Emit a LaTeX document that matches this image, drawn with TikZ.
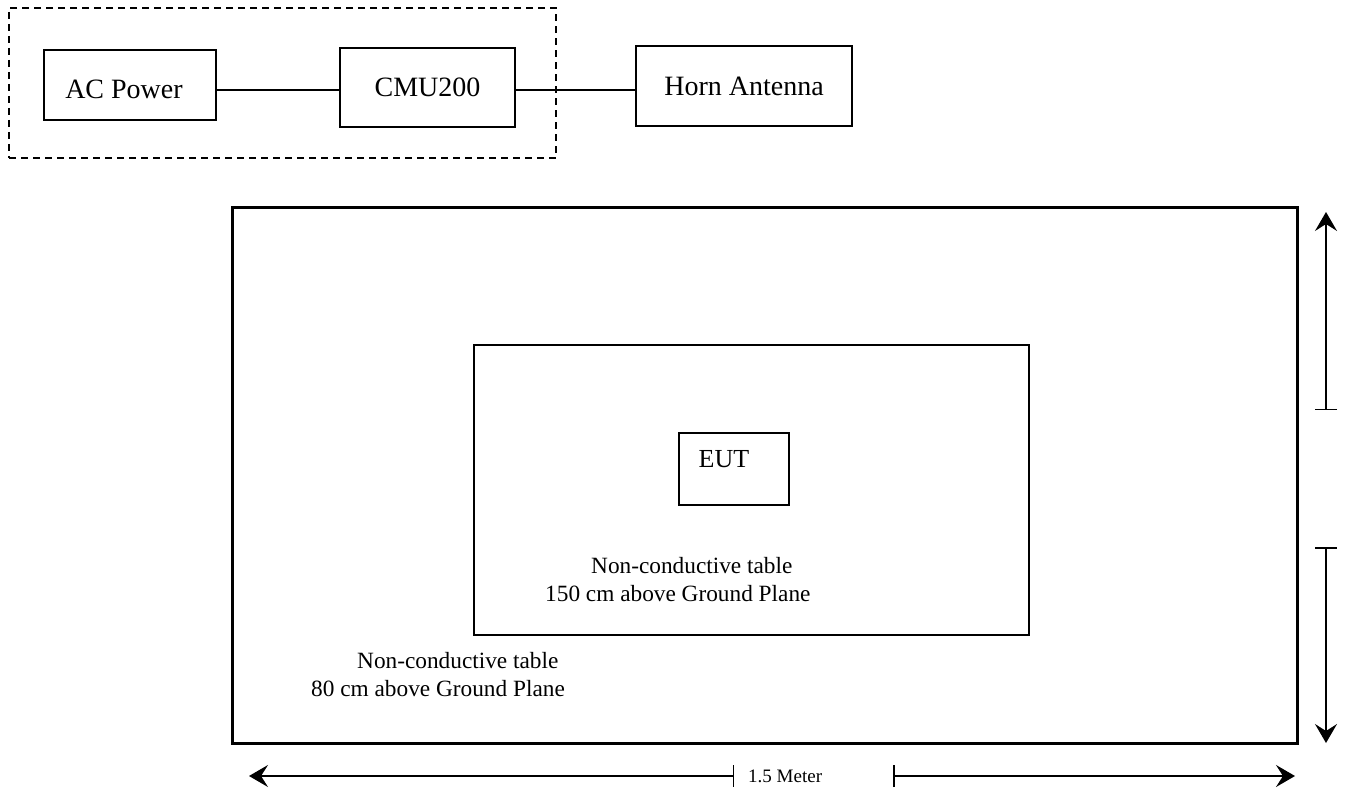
\documentclass[tikz,border=0pt]{standalone}
\usepackage{fontspec}
\setmainfont{Liberation Serif}
\usetikzlibrary{arrows.meta}
\begin{document}
\begin{tikzpicture}[x=1pt,y=-1pt,
  box/.style={draw,line width=2pt,inner sep=0pt,font=\fontsize{28}{34}\selectfont},
  wire/.style={line width=1.5pt},
  dim/.style={line width=1.5pt},
  tipend/.style={{Bar[width=22pt,line width=1.5pt]}-{Stealth[length=19pt,width=22pt,inset=7pt]}},
  lbl/.style={anchor=base west,inner sep=0pt,font=\fontsize{23.3}{28}\selectfont}]
\useasboundingbox (0,0) rectangle (1345,797);
% top block diagram
\node[draw,line width=1.8pt,dash pattern=on 7pt off 5pt,minimum width=547pt,minimum height=150pt,inner sep=0pt] (grp) at (282.5,83) {};
\node[box,minimum width=172pt,minimum height=70pt,text height=28pt,text depth=0pt] (ac) at (130,85) {AC Power\kern12pt};
\node[box,minimum width=175pt,minimum height=79pt] (cmu) at (427.5,87.5) {CMU200};
\node[box,minimum width=216pt,minimum height=80pt] (horn) at (744,86) {Horn Antenna};
\coordinate (w) at (0,90);
\draw[wire] (ac.east |- w) -- (cmu.west |- w);
\draw[wire] (cmu.east |- w) -- (horn.west |- w);
% ground plane and tables
\node[draw,line width=3pt,minimum width=1065pt,minimum height=535pt,inner sep=0pt] (gp) at (764.5,475.5) {};
\node[draw,line width=2pt,minimum width=555pt,minimum height=290pt,inner sep=0pt] (tbl) at (751.5,490) {};
\node[box,minimum width=110pt,minimum height=72pt,font=\fontsize{26}{30}\selectfont,text height=0pt,text depth=4pt] (eut) at (734,469) {EUT\kern20pt};
\node[lbl] (t1a) at (591,573) {Non-conductive table};
\node[lbl] (t1b) at (545,601) {150 cm above Ground Plane};
\node[lbl] (t2a) at (357,668) {Non-conductive table};
\node[lbl] (t2b) at (311,696) {80 cm above Ground Plane};
% dimension arrows
\coordinate (vt1) at (1326,410);
\coordinate (vt2) at (1326,212);
\coordinate (vb1) at (1326,547);
\coordinate (vb2) at (1326,743);
\coordinate (hl1) at (734,776);
\coordinate (hl2) at (249,776);
\coordinate (hr1) at (893,776);
\coordinate (hr2) at (1295,776);
\draw[dim,tipend] (vt1) -- (vt2);
\draw[dim,tipend] (vb1) -- (vb2);
\draw[dim,tipend] (hl1) -- (hl2);
\draw[dim,tipend] (hr1) -- (hr2);
\node[anchor=base west,inner sep=0pt,font=\fontsize{19}{22}\selectfont] (dimtxt) at (748,782) {1.5 Meter};
\end{tikzpicture}
\end{document}
